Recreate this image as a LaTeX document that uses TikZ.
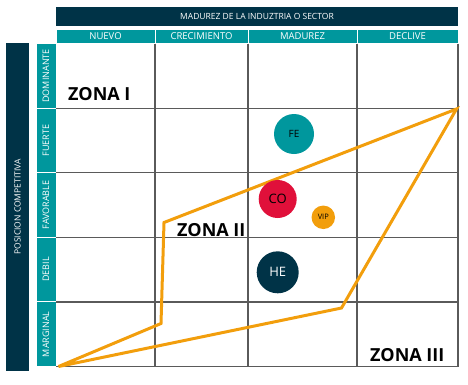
\documentclass[tikz,border=0pt]{standalone}
\usepackage{fontspec}
\setmainfont{Open Sans}
\usetikzlibrary{positioning}

\definecolor{matnavy}{HTML}{003347}
\definecolor{matteal}{HTML}{00979D}
\definecolor{matred}{HTML}{E0103A}
\definecolor{matorange}{HTML}{F29E0C}
\definecolor{matgrid}{HTML}{5A5A5A}

\tikzset{
  bar/.style={fill=matnavy, text=white, inner sep=0pt, font=\fontsize{8.5}{10}\selectfont},
  colhead/.style={fill=matteal, draw=white, line width=1pt, text=white, inner sep=0pt,
    minimum height=14pt, font=\fontsize{9.5}{11}\selectfont},
  rowhead/.style={fill=matteal, draw=white, line width=1pt, text=white, inner sep=0pt,
    minimum height=20pt, rotate=90, font=\fontsize{9}{11}\selectfont},
  zona/.style={font=\bfseries\fontsize{18}{20}\selectfont, inner sep=0pt, anchor=base west},
  unit/.style={circle, inner sep=0pt},
  gridline/.style={matgrid, line width=1.2pt},
}

\begin{document}
\begin{tikzpicture}[x=1pt, y=-1pt]
\useasboundingbox (0,0) rectangle (468,384);
% encabezados
\node[bar, minimum width=402pt, minimum height=19pt] (sector) at (257,16.5) {MADUREZ DE LA INDUZTRIA O SECTOR};
\node[bar, rotate=90, minimum width=328pt, minimum height=23pt] (posicion) at (17.5,207) {POSICION COMPETITIVA};
\node[colhead, minimum width=99pt] (nuevo) at (105.5,36.5) {NUEVO};
\node[colhead, minimum width=93pt] (crec) at (201.5,36.5) {CRECIMIENTO};
\node[colhead, minimum width=109pt] (madurez) at (302.5,36.5) {MADUREZ};
\node[colhead, minimum width=101pt] (declive) at (407.5,36.5) {DECLIVE};
\node[rowhead, minimum width=64.8pt] (dominante) at (46,75.9) {DOMINANTE};
\node[rowhead, minimum width=64.4pt] (fuerte) at (46,140.5) {FUERTE};
\node[rowhead, minimum width=64.6pt] (favorable) at (46,205) {FAVORABLE};
\node[rowhead, minimum width=64.7pt] (debil) at (46,269.6) {DEBIL};
\node[rowhead, minimum width=64.7pt] (marginal) at (46,334.3) {MARGINAL};

% cuadricula
\foreach \x in {155,248,357,458}
  \draw[gridline] (\x,43.5) -- (\x,366.7);
\foreach \y in {108.3,172.7,237.3,302,366.7}
  \draw[gridline] (56,\y) -- (458,\y);

% zonas
\node[zona] (zona1) at (68,100.7) {ZONA I};
\node[zona] (zona2) at (177,236) {ZONA II};
\node[zona] (zona3) at (370,361.7) {ZONA III};

% poligono
\coordinate (p1) at (58.5,366.5);
\coordinate (p2) at (161,323.5);
\coordinate (p3) at (164,222.5);
\coordinate (p4) at (456.5,109);
\coordinate (p5) at (341.5,308);
\draw[matorange, line width=3pt, line join=miter] (p1) -- (p2) -- (p3) -- (p4) -- (p5) -- cycle;

% unidades
\node[unit, fill=matteal, minimum size=40pt, font=\fontsize{10}{12}\selectfont] (fe) at (294,134) {FE};
\node[unit, fill=matred, minimum size=38pt, font=\fontsize{13}{15}\selectfont] (co) at (277.7,199) {CO};
\node[unit, fill=matorange, minimum size=23.5pt, font=\fontsize{7.5}{9}\selectfont] (vip) at (323.3,217.3) {VIP};
\node[unit, fill=matnavy, text=white, minimum size=42pt, font=\fontsize{13}{15}\selectfont] (he) at (277.7,272.3) {HE};
\end{tikzpicture}
\end{document}
